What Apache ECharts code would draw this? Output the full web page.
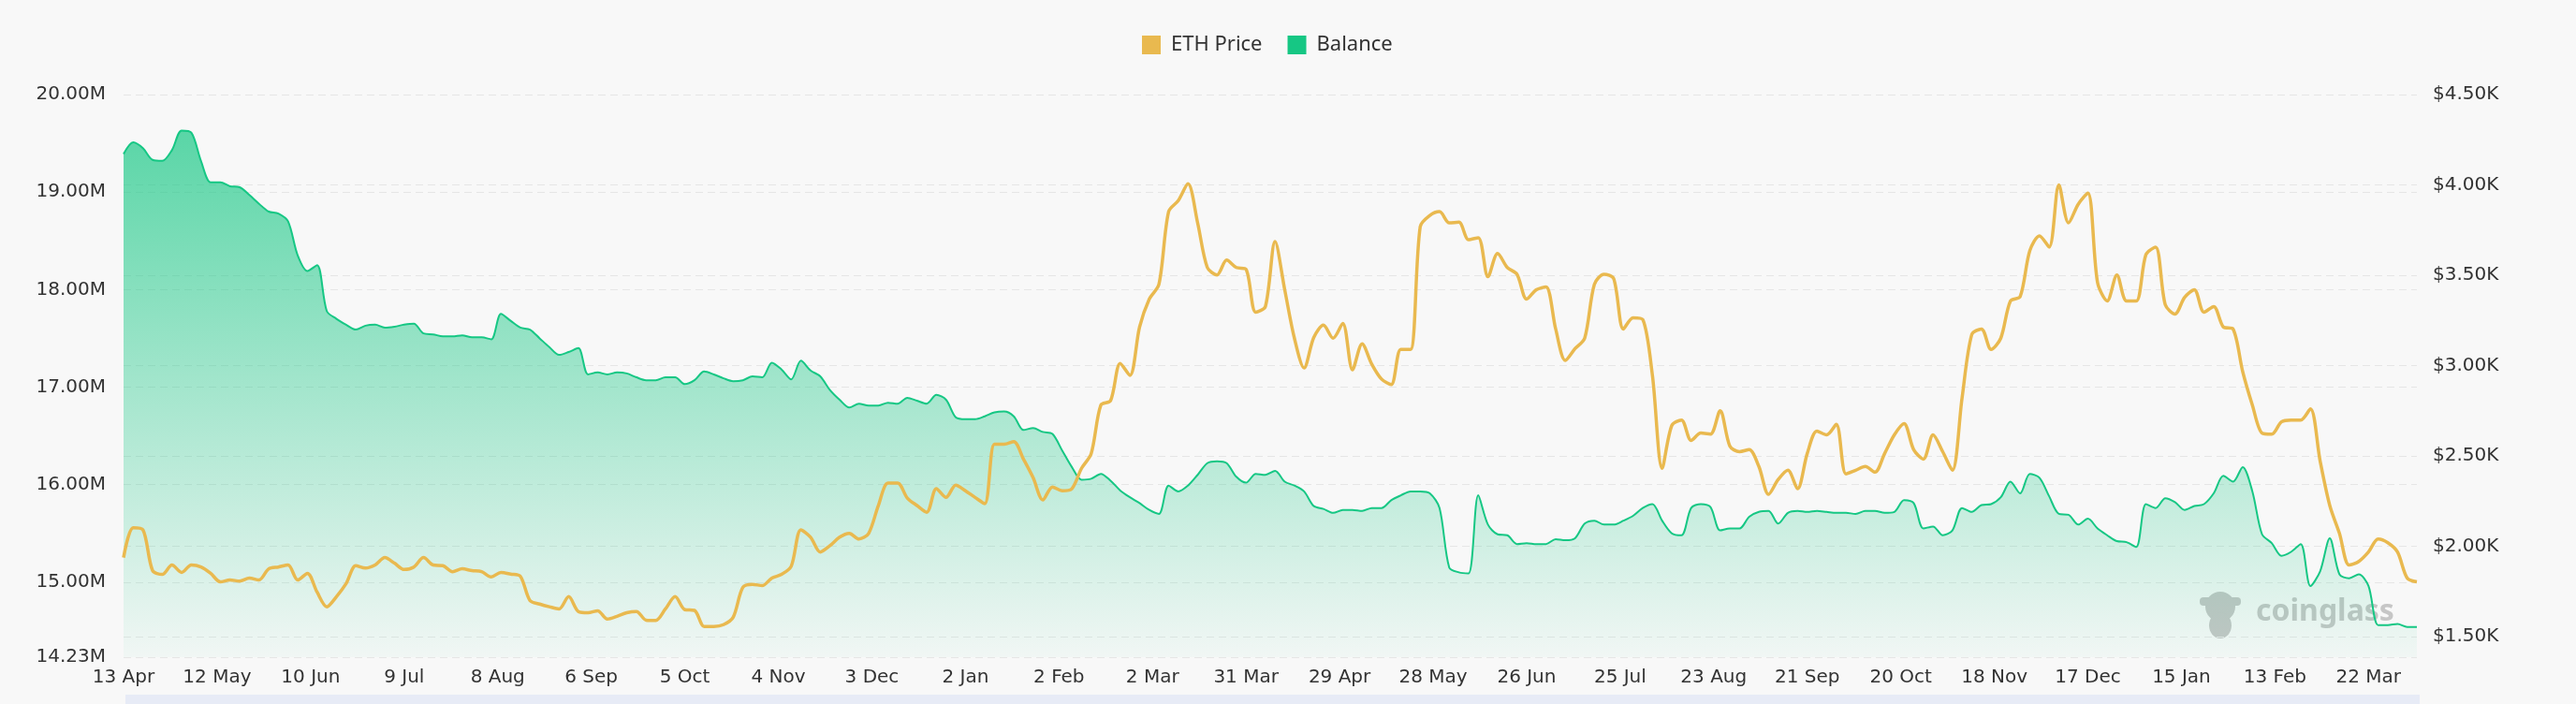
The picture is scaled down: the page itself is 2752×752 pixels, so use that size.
<!DOCTYPE html>
<html lang="en">
<head>
<meta charset="UTF-8">
<title>ETH Exchange Balance</title>
<script type="text/javascript" src="https://cdn.jsdelivr.net/npm/echarts@6/dist/echarts.min.js"></script>
<style>
  html, body { margin: 0; padding: 0; background: #f8f8f8; }
</style>
</head>
<body>
<div id="main" style="width: 2752px;height:752px;"></div>
<script type="text/javascript">
// x axis labels, one every 29 days (index units)
var xLabels = ['13 Apr', '12 May', '10 Jun', '9 Jul', '8 Aug', '6 Sep', '5 Oct', '4 Nov', '3 Dec',
    '2 Jan', '2 Feb', '2 Mar', '31 Mar', '29 Apr', '28 May', '26 Jun', '25 Jul', '23 Aug',
    '21 Sep', '20 Oct', '18 Nov', '17 Dec', '15 Jan', '13 Feb', '22 Mar'];
var LABEL_EVERY = 29;
var STEP = 3; // one value every 3 days

// exchange balance, millions of ETH
var balanceM = [
    19.39, 19.51, 19.45, 19.33, 19.32, 19.43, 19.63, 19.61, 19.32, 19.10, 19.10, 19.06, 19.05, 18.97, 18.88, 18.80, 18.78,
    18.70, 18.35, 18.19, 18.25, 17.78, 17.70, 17.64, 17.59, 17.63, 17.64, 17.61, 17.62, 17.64, 17.65, 17.55, 17.54, 17.52,
    17.52, 17.53, 17.51, 17.51, 17.49, 17.75, 17.68, 17.61, 17.59, 17.50, 17.41, 17.33, 17.36, 17.40, 17.13, 17.15, 17.13,
    17.15, 17.14, 17.10, 17.07, 17.07, 17.10, 17.10, 17.03, 17.07, 17.16, 17.13, 17.09, 17.06, 17.07, 17.11, 17.10, 17.25,
    17.18, 17.08, 17.27, 17.17, 17.11, 16.97, 16.87, 16.79, 16.83, 16.81, 16.81, 16.84, 16.83, 16.89, 16.86, 16.83, 16.92,
    16.87, 16.69, 16.67, 16.67, 16.70, 16.74, 16.75, 16.70, 16.56, 16.58, 16.54, 16.52, 16.35, 16.18, 16.05, 16.06, 16.11,
    16.04, 15.94, 15.87, 15.81, 15.74, 15.70, 15.99, 15.93, 15.99, 16.10, 16.22, 16.24, 16.22, 16.08, 16.02, 16.11, 16.10,
    16.14, 16.03, 15.99, 15.93, 15.78, 15.75, 15.71, 15.74, 15.74, 15.73, 15.76, 15.76, 15.84, 15.89, 15.93, 15.93, 15.91,
    15.76, 15.15, 15.10, 15.09, 15.89, 15.59, 15.49, 15.48, 15.39, 15.40, 15.39, 15.39, 15.44, 15.43, 15.45, 15.60, 15.63,
    15.59, 15.59, 15.63, 15.68, 15.76, 15.80, 15.63, 15.50, 15.48, 15.76, 15.80, 15.77, 15.53, 15.55, 15.55, 15.67, 15.72,
    15.73, 15.60, 15.71, 15.73, 15.72, 15.73, 15.72, 15.71, 15.71, 15.70, 15.73, 15.73, 15.71, 15.72, 15.84, 15.81, 15.55,
    15.57, 15.48, 15.53, 15.76, 15.72, 15.79, 15.80, 15.87, 16.03, 15.91, 16.11, 16.07, 15.88, 15.70, 15.69, 15.59, 15.65,
    15.55, 15.48, 15.42, 15.41, 15.36, 15.80, 15.76, 15.86, 15.82, 15.74, 15.78, 15.80, 15.91, 16.09, 16.03, 16.18, 15.93,
    15.49, 15.40, 15.27, 15.31, 15.39, 14.96, 15.11, 15.45, 15.08, 15.04, 15.08, 14.96, 14.56, 14.56, 14.57, 14.54, 14.54
];

// ETH price, USD
var ethPrice = [
    1938, 2103, 2092, 1866, 1845, 1897, 1856, 1897, 1886, 1851, 1804, 1814, 1808, 1825, 1814, 1876, 1886,
    1897, 1814, 1851, 1747, 1666, 1722, 1794, 1893, 1880, 1897, 1938, 1907, 1872, 1886, 1938, 1897, 1893,
    1860, 1876, 1866, 1860, 1831, 1856, 1847, 1835, 1700, 1681, 1666, 1654, 1722, 1640, 1633, 1644, 1598,
    1613, 1633, 1640, 1592, 1590, 1654, 1722, 1650, 1646, 1557, 1557, 1567, 1608, 1773, 1790, 1783, 1825,
    1845, 1890, 2092, 2051, 1969, 2004, 2051, 2072, 2041, 2072, 2226, 2350, 2350, 2267, 2226, 2189, 2319,
    2271, 2339, 2308, 2271, 2236, 2565, 2565, 2580, 2483, 2380, 2257, 2329, 2308, 2319, 2432, 2514, 2782,
    2806, 3012, 2946, 3214, 3368, 3450, 3852, 3913, 4006, 3790, 3543, 3502, 3584, 3543, 3533, 3296, 3327,
    3687, 3420, 3152, 2987, 3156, 3224, 3152, 3234, 2977, 3121, 3008, 2926, 2895, 3090, 3090, 3769, 3831,
    3852, 3790, 3794, 3697, 3708, 3492, 3621, 3543, 3506, 3368, 3420, 3436, 3203, 3029, 3094, 3152, 3450,
    3506, 3481, 3203, 3265, 3255, 2946, 2432, 2669, 2699, 2586, 2627, 2621, 2751, 2555, 2524, 2535, 2442,
    2288, 2370, 2421, 2319, 2514, 2638, 2617, 2675, 2401, 2421, 2442, 2411, 2514, 2617, 2679, 2535, 2483,
    2617, 2524, 2421, 2822, 3172, 3203, 3090, 3152, 3358, 3382, 3636, 3718, 3656, 4000, 3790, 3893, 3955,
    3460, 3358, 3502, 3358, 3358, 3615, 3656, 3337, 3286, 3378, 3420, 3296, 3327, 3214, 3203, 2967, 2782,
    2627, 2621, 2689, 2699, 2699, 2761, 2473, 2226, 2072, 1897, 1917, 1969, 2041, 2020, 1969, 1825, 1804
];

var chart = echarts.init(document.getElementById('main'));

var lastIndex = (balanceM.length - 1) * STEP;
var balanceData = balanceM.map(function (v, k) { return [k * STEP, v]; });
var priceData = ethPrice.map(function (v, k) { return [k * STEP, v]; });

var axisFont = { fontSize: 20, color: '#333', fontFamily: 'DejaVu Sans' };
var dashed = { show: true, lineStyle: { color: '#e6e6e6', type: [8, 5], width: 1 } };

var option = {
    backgroundColor: '#f8f8f8',
    animation: false,
    legend: {
        left: 1215,
        top: 32,
        itemWidth: 20,
        itemHeight: 20,
        itemGap: 27,
        icon: 'rect',
        data: ['ETH Price', 'Balance'],
        textStyle: { fontSize: 22, color: '#333', fontFamily: 'Noto Sans', padding: [0, 0, 0, 6] }
    },
    grid: { left: 132, right: 170, top: 101, bottom: 50 },
    xAxis: {
        type: 'value',
        min: 0,
        max: lastIndex,
        interval: LABEL_EVERY,
        axisLine: { show: false },
        axisTick: { show: false },
        splitLine: { show: false },
        axisLabel: Object.assign({
            margin: 12,
            formatter: function (v) {
                return v % LABEL_EVERY === 0 ? (xLabels[v / LABEL_EVERY] || '') : '';
            }
        }, axisFont)
    },
    yAxis: [{
        type: 'value',
        position: 'left',
        min: 14.23,
        max: 20,
        splitNumber: 6,
        axisLine: { show: false },
        axisTick: { show: false },
        splitLine: dashed,
        axisLabel: Object.assign({
            margin: 19,
            formatter: function (v) { return v.toFixed(2) + 'M'; }
        }, axisFont)
    }, {
        type: 'value',
        position: 'right',
        min: 1387,
        max: 4500,
        splitNumber: 6,
        axisLine: { show: false },
        axisTick: { show: false },
        splitLine: dashed,
        axisLabel: Object.assign({
            margin: 17,
            showMinLabel: false,
            formatter: function (v) { return '$' + (v / 1000).toFixed(2) + 'K'; }
        }, axisFont)
    }],
    series: [{
        name: 'Balance',
        type: 'line',
        yAxisIndex: 0,
        data: balanceData,
        showSymbol: false,
        smooth: 0.3,
        color: '#16c784',
        lineStyle: { width: 2, color: '#16c784' },
        areaStyle: {
            origin: 'start',
            opacity: 1,
            color: new echarts.graphic.LinearGradient(0, 0, 0, 1, [
                { offset: 0, color: 'rgba(22,199,132,0.70)' },
                { offset: 1, color: 'rgba(22,199,132,0.03)' }
            ])
        },
        z: 2
    }, {
        name: 'ETH Price',
        type: 'line',
        yAxisIndex: 1,
        data: priceData,
        showSymbol: false,
        smooth: 0.3,
        color: '#e9b94f',
        lineStyle: { width: 3.5, color: '#e9b94f' },
        z: 3
    }],
    graphic: [
        // top edge of the zoom slider below the axis
        { type: 'rect', left: 134, top: 742, z: 0, shape: { width: 2451, height: 12 }, style: { fill: '#e7ebf6' }, silent: true },
        // watermark, kept under the series
        { type: 'group', left: 2350, top: 632, z: 0, silent: true, children: [
            { type: 'circle', z: 0, shape: { cx: 24, cy: 20, r: 16 }, style: { fill: '#c6c6c6' } },
            { type: 'ellipse', z: 0, shape: { cx: 24, cy: 40, rx: 12, ry: 14 }, style: { fill: '#c6c6c6' } },
            { type: 'rect', z: 0, shape: { x: 2, y: 10, width: 44, height: 9, r: 4 }, style: { fill: '#c6c6c6' } }
        ] },
        { type: 'text', left: 2410, top: 638, z: 0, silent: true,
          style: { text: 'coinglass', fill: '#c6c6c6', font: 'bold 32px "Noto Sans"' } }
    ]
};

chart.setOption(option);
</script>
</body>
</html>
